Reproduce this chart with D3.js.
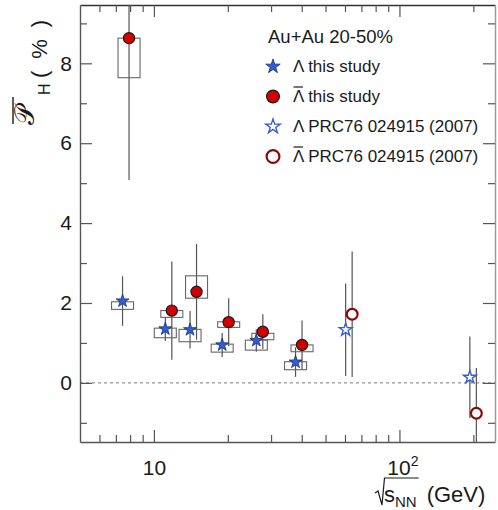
<!DOCTYPE html>
<html>
<head>
<meta charset="utf-8">
<script src="https://cdn.jsdelivr.net/npm/d3@7"></script>
<style>
  html, body { margin: 0; padding: 0; background: #fff; }
  svg { display: block; }
  text { font-family: "Liberation Sans", Arial, Helvetica, sans-serif; fill: #1a1a1a; }
</style>
</head>
<body>
<div id="chart"></div>
<script>
// ---------------- data ----------------
const besEnergies = [7.7, 11.5, 14.5, 19.6, 27, 39];          // sqrt(sNN) GeV
const lambdaP     = [2.05, 1.35, 1.33, 0.95, 1.06, 0.52];      // Lambda, this study (%)
const lambdaStat  = [0.62, 0.30, 0.47, 0.30, 0.28, 0.37];
const lambdaSysLo = [1.84, 1.13, 1.03, 0.77, 0.82, 0.33];
const lambdaSysHi = [2.03, 1.37, 1.34, 0.97, 1.07, 0.53];
const antiP       = [8.63, 1.81, 2.28, 1.52, 1.28, 0.95];      // anti-Lambda, this study (%)
const antiStat    = [3.55, 1.23, 1.20, 0.60, 0.44, 0.61];
const antiSysLo   = [7.64, 1.64, 2.12, 1.39, 1.08, 0.78];
const antiSysHi   = [8.63, 1.81, 2.68, 1.53, 1.24, 0.95];

const prcEnergies = [62.4, 200];
const prcLambdaP    = [1.33, 0.14];
const prcLambdaStat = [1.16, 1.02];
const prcAntiP      = [1.72, -0.76];
const prcAntiStat   = [1.57, 1.13];

const yMajorTicks = [0, 2, 4, 6, 8];
const yMinorTicks = [-1, 1, 3, 5, 7, 9];
const xMajorTicks = [10, 100];
const xMinorTicks = [6, 7, 8, 9, 20, 30, 40, 50, 60, 70, 80, 90, 200];
const xTickLabels = {10: ["10", ""], 100: ["10", "2"]};

const legendTitle = "Au+Au 20-50%";
const legendLabels = [
  {sym: "Λ", bar: false, rest: " this study"},
  {sym: "Λ", bar: true,  rest: " this study"},
  {sym: "Λ", bar: false, rest: " PRC76 024915 (2007)"},
  {sym: "Λ", bar: true,  rest: " PRC76 024915 (2007)"}
];

// ---------------- layout ----------------
const W = 498, H = 510;
const L = 80, R = 495, T = 5, B = 442;

const svg = d3.select("#chart").append("svg").attr("width", W).attr("height", H);

const x = d3.scaleLog().domain([5, 245]).range([L, R]);
const y = d3.scaleLinear().domain([-1.48, 9.46]).range([B, T]);

const axisColor = "#555";
const lamShift = -3.5, antiShift = 3;

svg.append("clipPath").attr("id", "clip")
  .append("rect").attr("x", L).attr("y", T).attr("width", R - L).attr("height", B - T);

// zero line
svg.append("line")
  .attr("x1", L).attr("x2", R).attr("y1", y(0)).attr("y2", y(0))
  .attr("stroke", "#777").attr("stroke-width", 1).attr("stroke-dasharray", "3,3");

// ---------------- axes ----------------
function styleAxis(g) {
  g.selectAll("path.domain").attr("stroke", axisColor).attr("stroke-width", 1.4);
  g.selectAll(".tick line").attr("stroke", axisColor).attr("stroke-width", 1.2);
}
const fsTick = 21;
// bottom
const gB = svg.append("g").attr("transform", `translate(0,${B})`)
  .call(d3.axisBottom(x).tickValues(xMajorTicks).tickSize(-12).tickSizeOuter(0).tickPadding(18).tickFormat(""))
  .call(styleAxis);
svg.append("g").attr("transform", `translate(0,${B})`)
  .call(d3.axisBottom(x).tickValues(xMinorTicks).tickSize(-7).tickSizeOuter(0).tickFormat(""))
  .call(styleAxis).call(g => g.select("path.domain").remove());
gB.selectAll(".tick").each(function(d) {
  const lab = xTickLabels[d];
  const t = d3.select(this).append("text")
    .attr("y", 33).attr("text-anchor", "middle")
    .attr("font-size", fsTick).attr("fill", "#1a1a1a");
  t.append("tspan").text(lab[0]);
  if (lab[1]) t.append("tspan").attr("font-size", 14).attr("dy", -9).text(lab[1]);
  if (lab[1]) t.attr("dx", 3);
});
// top
svg.append("g").attr("transform", `translate(0,${T})`)
  .call(d3.axisTop(x).tickValues(xMajorTicks).tickSize(-12).tickSizeOuter(0).tickFormat(""))
  .call(styleAxis).call(g => g.select("path.domain").attr("stroke", "#333").attr("stroke-width", 1.6));
svg.append("g").attr("transform", `translate(0,${T})`)
  .call(d3.axisTop(x).tickValues(xMinorTicks).tickSize(-7).tickSizeOuter(0).tickFormat(""))
  .call(styleAxis).call(g => g.select("path.domain").remove());
// left
svg.append("g").attr("transform", `translate(${L},0)`)
  .call(d3.axisLeft(y).tickValues(yMajorTicks).tickSize(-12).tickSizeOuter(0).tickPadding(8).tickFormat(d3.format("d")))
  .call(styleAxis)
  .call(g => g.selectAll(".tick text").attr("font-size", fsTick).attr("fill", "#1a1a1a")
      .attr("font-family", "'Liberation Sans', Arial, sans-serif"));
svg.append("g").attr("transform", `translate(${L},0)`)
  .call(d3.axisLeft(y).tickValues(yMinorTicks).tickSize(-7).tickSizeOuter(0).tickFormat(""))
  .call(styleAxis).call(g => g.select("path.domain").remove());
// right
svg.append("g").attr("transform", `translate(${R},0)`)
  .call(d3.axisRight(y).tickValues(yMajorTicks).tickSize(-12).tickSizeOuter(0).tickFormat(""))
  .call(styleAxis).call(g => g.select("path.domain").attr("stroke", "#999"));
svg.append("g").attr("transform", `translate(${R},0)`)
  .call(d3.axisRight(y).tickValues(yMinorTicks).tickSize(-7).tickSizeOuter(0).tickFormat(""))
  .call(styleAxis).call(g => g.select("path.domain").remove());

// ---------------- data marks ----------------
const plot = svg.append("g").attr("clip-path", "url(#clip)");

const lamData = besEnergies.map((e, i) => ({e, v: lambdaP[i], s: lambdaStat[i], lo: lambdaSysLo[i], hi: lambdaSysHi[i]}));
const antiData = besEnergies.map((e, i) => ({e, v: antiP[i], s: antiStat[i], lo: antiSysLo[i], hi: antiSysHi[i]}));
const prcLam = prcEnergies.map((e, i) => ({e, v: prcLambdaP[i], s: prcLambdaStat[i]}));
const prcAnti = prcEnergies.map((e, i) => ({e, v: prcAntiP[i], s: prcAntiStat[i]}));

function errBars(data, shift) {
  plot.append("g").selectAll("line").data(data).join("line")
    .attr("x1", d => x(d.e) + shift).attr("x2", d => x(d.e) + shift)
    .attr("y1", d => y(d.v + d.s)).attr("y2", d => y(d.v - d.s))
    .attr("stroke", "#555").attr("stroke-width", 1.2);
}
function sysBoxes(data, shift) {
  plot.append("g").selectAll("rect").data(data).join("rect")
    .attr("x", d => x(d.e) + shift - 11).attr("width", 22)
    .attr("y", d => y(d.hi)).attr("height", d => y(d.lo) - y(d.hi))
    .attr("fill", "none").attr("stroke", "#666").attr("stroke-width", 1.1);
}
errBars(lamData, lamShift);
errBars(antiData, antiShift);
errBars(prcLam, lamShift);
errBars(prcAnti, antiShift);
sysBoxes(lamData, lamShift);
sysBoxes(antiData, antiShift);

const starPath = r => d3.symbol().type(d3.symbolStar).size(r * r / 0.8908130915292852)();

const styles = {
  star:  s => s.attr("d", starPath(6.8)).attr("fill", "#2f5fd6").attr("stroke", "#1c2d6b").attr("stroke-width", 0.8),
  circ:  s => s.attr("r", 5.6).attr("fill", "#d20000").attr("stroke", "#1a1a1a").attr("stroke-width", 1.2),
  ostar: s => s.attr("d", starPath(6.8)).attr("fill", "#fff").attr("stroke", "#3a5fcd").attr("stroke-width", 1.4),
  ocirc: s => s.attr("r", 5.4).attr("fill", "#fff").attr("stroke", "#8a0a0a").attr("stroke-width", 2.2)
};

plot.append("g").selectAll("path").data(lamData).join("path")
  .attr("transform", d => `translate(${x(d.e) + lamShift},${y(d.v)})`).call(styles.star);
plot.append("g").selectAll("circle").data(antiData).join("circle")
  .attr("cx", d => x(d.e) + antiShift).attr("cy", d => y(d.v)).call(styles.circ);
plot.append("g").selectAll("path").data(prcLam).join("path")
  .attr("transform", d => `translate(${x(d.e) + lamShift},${y(d.v)})`).call(styles.ostar);
plot.append("g").selectAll("circle").data(prcAnti).join("circle")
  .attr("cx", d => x(d.e) + antiShift).attr("cy", d => y(d.v)).call(styles.ocirc);

// ---------------- legend ----------------
svg.append("text").attr("x", 268).attr("y", 43).attr("font-size", 18.5).text(legendTitle);
const fsLeg = 17;
const legKinds = ["star", "circ", "ostar", "ocirc"];
legendLabels.forEach((lab, i) => {
  const yb = 71.5 + i * 30;
  const ym = yb - 5;
  const k = legKinds[i];
  if (k === "star" || k === "ostar") {
    svg.append("path").attr("transform", `translate(273,${ym})`).call(styles[k]).attr("d", starPath(7.6));
  } else {
    svg.append("circle").attr("cx", 273).attr("cy", ym).call(styles[k]).attr("r", 6.4);
  }
  const t = svg.append("text").attr("x", 293).attr("y", yb).attr("font-size", fsLeg);
  t.append("tspan").text(lab.sym);
  t.append("tspan").text(lab.rest);
  if (lab.bar) {
    const w = t.node().getSubStringLength(0, 1);
    svg.append("line").attr("x1", 293.5).attr("x2", 293 + w - 0.5)
      .attr("y1", yb - 14.5).attr("y2", yb - 14.5).attr("stroke", "#1a1a1a").attr("stroke-width", 1.2);
  }
});

// ---------------- axis titles ----------------
// y title (rotated)
const yt = svg.append("g").attr("transform", "rotate(-90)");
yt.append("text").attr("x", -125).attr("y", 34).attr("font-size", 27)
  .attr("font-family", "'DejaVu Serif', serif").text("𝒫");
yt.append("line").attr("x1", -124).attr("x2", -97).attr("y1", 13).attr("y2", 13)
  .attr("stroke", "#1a1a1a").attr("stroke-width", 1.4);
yt.append("text").attr("x", -95).attr("y", 50).attr("font-size", 16)
  .attr("font-family", "'Liberation Serif', 'DejaVu Serif', serif").text("H");
yt.append("text").attr("x", -78).attr("y", 47).attr("font-size", 22)
  .attr("font-family", "'Liberation Serif', 'DejaVu Serif', serif")
  .attr("textLength", 58).attr("lengthAdjust", "spacing").text("(%)");

// x title
const xtX = 384, xtY = 502;
const xt = svg.append("text").attr("x", xtX).attr("y", xtY).attr("font-size", 22);
xt.append("tspan").text("s");
xt.append("tspan").attr("font-size", 15).attr("dy", 5).text("NN");
xt.append("tspan").attr("dy", -5).attr("dx", 10).text("(GeV)");
const sw = xt.node().getSubStringLength(0, 3);
svg.append("path")
  .attr("d", `M${xtX - 9},${xtY - 9} L${xtX - 6},${xtY - 11} L${xtX - 2},${xtY + 3} L${xtX + 0.5},${xtY - 24} H${xtX + sw + 2}`)
  .attr("fill", "none").attr("stroke", "#1a1a1a").attr("stroke-width", 1.2);
</script>
</body>
</html>
